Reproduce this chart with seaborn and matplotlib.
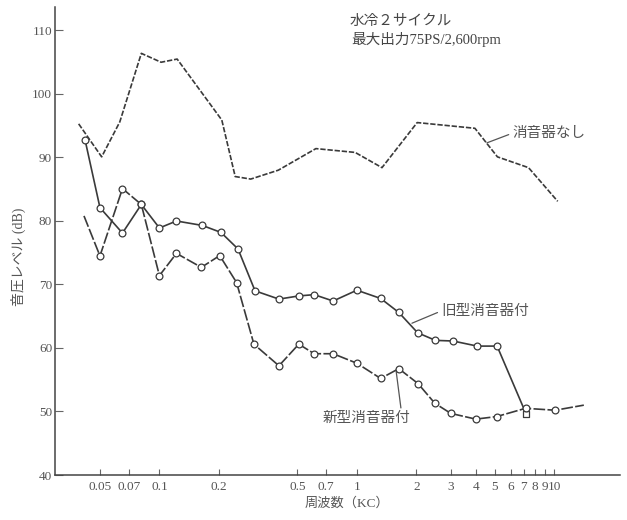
import matplotlib
matplotlib.use("Agg")
import matplotlib.pyplot as plt
import seaborn as sns
from matplotlib.ticker import FixedLocator, FixedFormatter, NullLocator

# ---- data ----
freq_none = [0.039, 0.051, 0.063, 0.081, 0.102, 0.123, 0.207, 0.242, 0.29, 0.40, 0.62, 0.98, 1.34, 2.02, 3.96, 5.15, 7.4, 10.4]
db_none   = [95.3, 90.1, 95.6, 106.4, 105.0, 105.5, 95.9, 87.0, 86.6, 88.0, 91.4, 90.8, 88.4, 95.5, 94.6, 90.1, 88.4, 83.1]

freq_old = [0.042, 0.050, 0.065, 0.081, 0.100, 0.122, 0.165, 0.205, 0.250, 0.305, 0.403, 0.508, 0.608, 0.758, 1.0, 1.32, 1.63, 2.03, 2.50, 3.07, 4.07, 5.13, 7.2]
db_old   = [92.8, 82.1, 78.1, 82.6, 78.9, 80.0, 79.3, 78.2, 75.6, 69.0, 67.7, 68.2, 68.4, 67.4, 69.1, 67.8, 65.6, 62.4, 61.2, 61.1, 60.3, 60.3, 49.6]

freq_new = [0.0415, 0.050, 0.065, 0.081, 0.100, 0.122, 0.163, 0.202, 0.246, 0.301, 0.403, 0.508, 0.608, 0.758, 1.0, 1.32, 1.63, 2.04, 2.48, 2.99, 4.0, 5.1, 7.15, 10.1, 14.1]
db_new   = [80.8, 74.5, 85.1, 82.6, 71.4, 74.9, 72.7, 74.55, 70.3, 60.6, 57.2, 60.6, 59.1, 59.1, 57.6, 55.2, 56.75, 54.4, 51.3, 49.7, 48.8, 49.2, 50.5, 50.2, 51.0]

xtick_vals   = [0.05, 0.07, 0.1, 0.2, 0.5, 0.7, 1, 2, 3, 4, 5, 6, 7, 8, 9, 10]
xtick_labels = ["0.05", "0.07", "0.1", "0.2", "0.5", "0.7", "1", "2", "3", "4", "5", "6", "7", "8", "9", "10"]
ytick_vals   = [40, 50, 60, 70, 80, 90, 100, 110]

title_lines = ["水冷２サイクル", "最大出力75PS/2,600rpm"]
label_none = "消音器なし"
label_old = "旧型消音器付"
label_new = "新型消音器付"
xlabel = "周波数（KC）"
ylabel = "音圧レベル (dB)"

# ---- style ----
sns.set_theme(style="white")
plt.rcParams["font.family"] = ["Liberation Serif", "Noto Sans CJK JP", "DejaVu Sans"]

LINE = "#3a3a3a"
TXT = "#555555"

fig = plt.figure(figsize=(6.27, 5.2), dpi=100)
fig.patch.set_facecolor("white")
ax = fig.add_axes([55/627, 45/520, 565/627, 468/520])
ax.set_facecolor("white")

sns.lineplot(x=freq_none, y=db_none, ax=ax, estimator=None, sort=False,
             color=LINE, lw=1.2, linestyle=(0, (3.2, 1.1)))
sns.lineplot(x=freq_old, y=db_old, ax=ax, estimator=None, sort=False,
             color=LINE, lw=1.2, linestyle="-")
sns.lineplot(x=freq_new, y=db_new, ax=ax, estimator=None, sort=False,
             color=LINE, lw=1.2, linestyle=(0, (7, 1.4)))

# markers
sns.scatterplot(x=freq_old[:-1], y=db_old[:-1], ax=ax, marker="o", s=24,
                facecolor="white", edgecolor=LINE, linewidth=0.9, zorder=4)
sns.scatterplot(x=freq_old[-1:], y=db_old[-1:], ax=ax, marker="s", s=20,
                facecolor="white", edgecolor=LINE, linewidth=0.9, zorder=4)
sns.scatterplot(x=freq_new[1:-1], y=db_new[1:-1], ax=ax, marker="o", s=24,
                facecolor="white", edgecolor=LINE, linewidth=0.9, zorder=4)

ax.set_xscale("log")
ax.set_xlim(0.0296, 21.5)
ax.set_ylim(40, 113.7)

ax.xaxis.set_major_locator(FixedLocator(xtick_vals))
ax.xaxis.set_major_formatter(FixedFormatter(xtick_labels))
ax.xaxis.set_minor_locator(NullLocator())
ax.yaxis.set_major_locator(FixedLocator(ytick_vals))
ax.yaxis.set_minor_locator(NullLocator())

ax.tick_params(axis="x", direction="in", length=4.5, width=0.8, color="#666666",
               labelsize=9.5, labelcolor=TXT, pad=4, bottom=True)
ax.tick_params(axis="y", direction="in", length=5.5, width=0.8, color="#666666",
               labelsize=9.5, labelcolor=TXT, pad=2, left=True)

for side in ["top", "right"]:
    ax.spines[side].set_visible(False)
for side in ["left", "bottom"]:
    ax.spines[side].set_color("#444444")
    ax.spines[side].set_linewidth(1.1)

ax.set_xlabel(xlabel, fontsize=9.5, color=TXT)
ax.xaxis.set_label_coords(0.517, -0.047)
ax.set_ylabel("")
fig.text(18/627, 1-257/520, ylabel, rotation=90, ha="center", va="center",
         fontsize=10, color=TXT)

fig.text(350/627, 1-21/520, title_lines[0], ha="left", va="center", fontsize=10.5, color="#444444")
fig.text(351/627, 1-39.5/520, title_lines[1], ha="left", va="center", fontsize=10.5, color="#444444")

arrow = dict(arrowstyle="-", color="#555555", lw=0.9, shrinkA=0, shrinkB=0)
ax.annotate(label_none, xy=(4.55, 92.3), xytext=(6.1, 93.8), ha="left", va="center",
            fontsize=10.5, color=TXT, arrowprops=dict(arrow, relpos=(0, 0.5)))
ax.annotate(label_old, xy=(1.9, 63.9), xytext=(2.66, 65.8), ha="left", va="center",
            fontsize=10.5, color=TXT, arrowprops=dict(arrow, relpos=(0, 0.5)))
ax.annotate(label_new, xy=(1.58, 56.4), xytext=(1.86, 49.0), ha="right", va="center",
            fontsize=10.5, color=TXT, arrowprops=dict(arrow, relpos=(0.9, 1.0)))

fig.savefig("out.png", dpi=100, facecolor="white")
